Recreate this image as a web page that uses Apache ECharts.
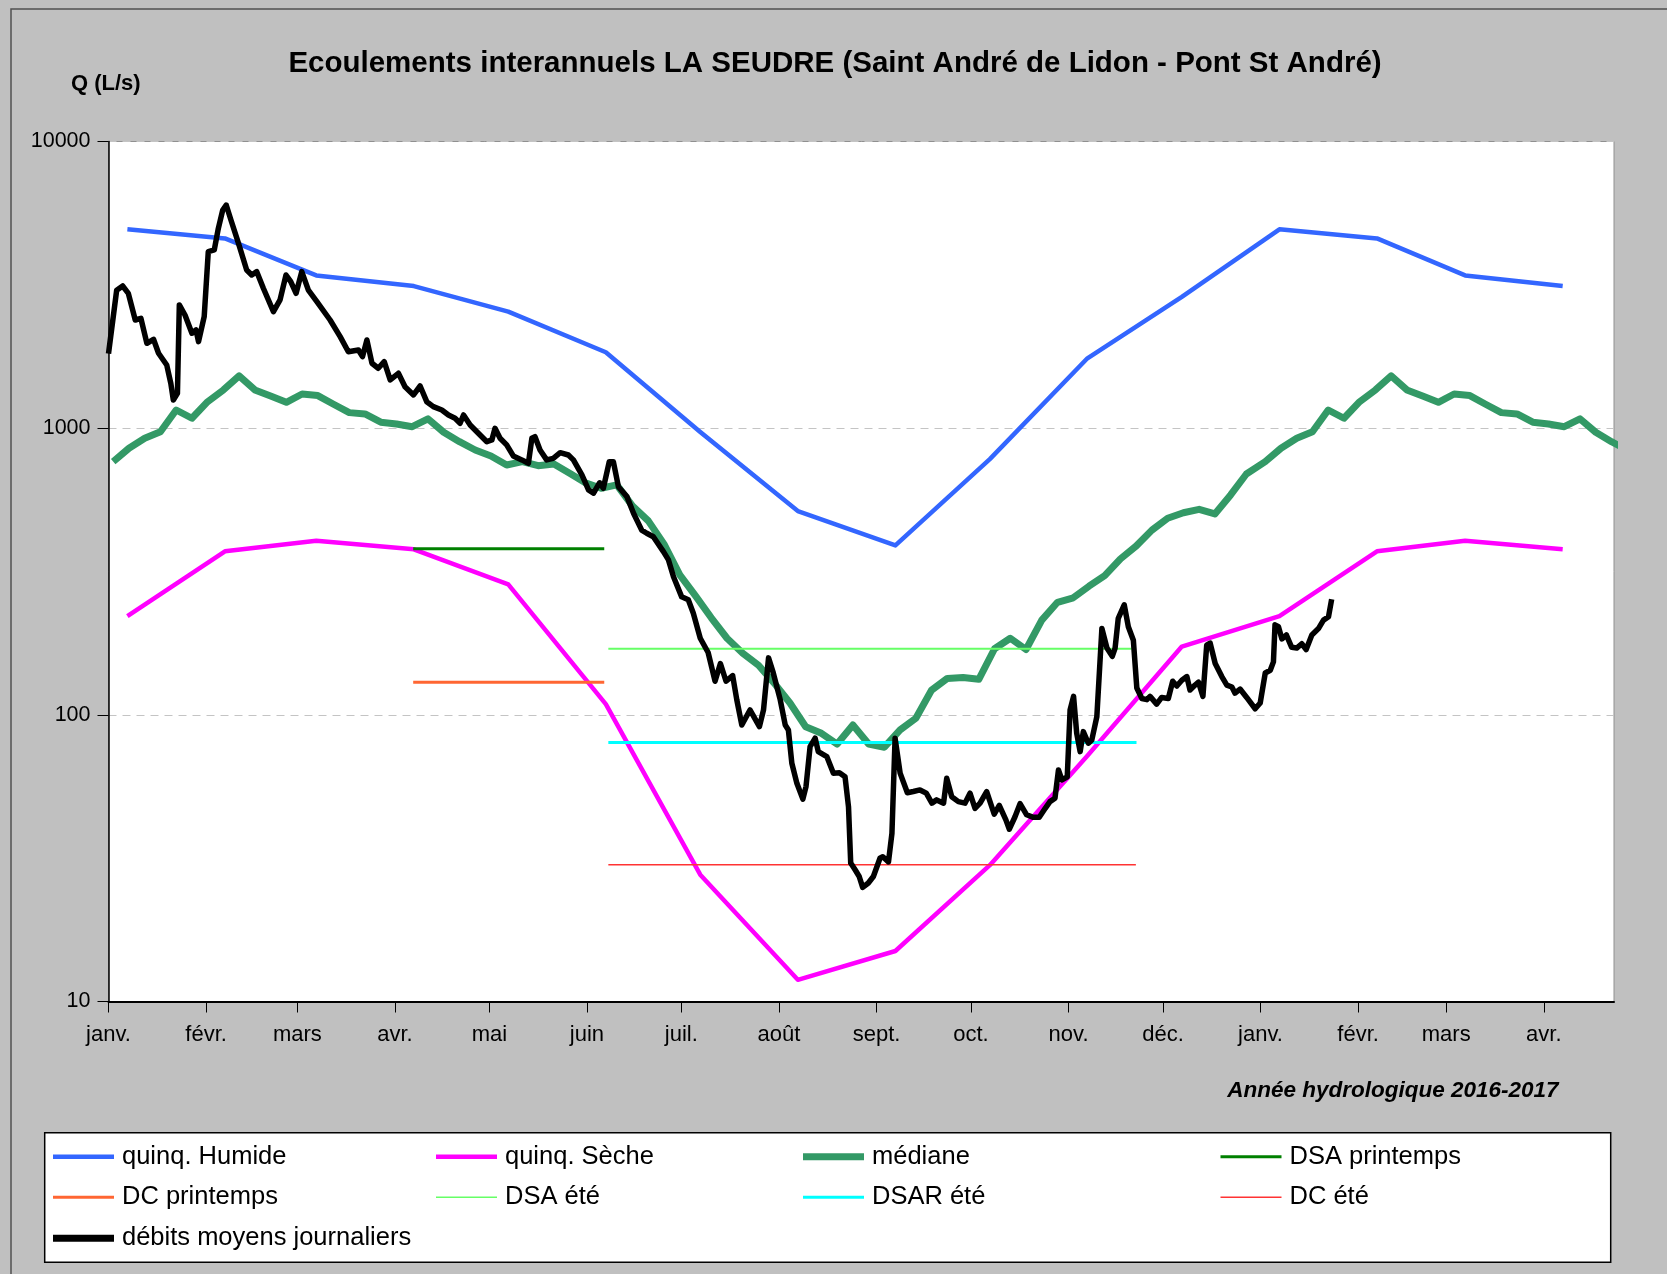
<!DOCTYPE html>
<html><head><meta charset="utf-8">
<script src="https://cdn.jsdelivr.net/npm/echarts@6/dist/echarts.min.js"></script>
<style>html,body{margin:0;padding:0;background:#c0c0c0}#c{width:1667px;height:1274px}</style>
</head><body><div id="c"></div>
<script>
// ---------- DATA ----------
const monthLabels = ['janv.','févr.','mars','avr.','mai','juin','juil.','août','sept.','oct.','nov.','déc.','janv.','févr.','mars','avr.'];
const axisMonths = [[2016,0],[2016,1],[2016,2],[2016,3],[2016,4],[2016,5],[2016,6],[2016,7],[2016,8],[2016,9],[2016,10],[2016,11],[2017,0],[2017,1],[2017,2],[2017,3]];
const axisEndDay = 478.3; // days after 2016-01-01

// monthly quintile values (Jan..Dec), plotted on the 7th of each month
const quinqHumide = [4940, 4590, 3410, 3130, 2550, 1840, 970, 514, 390, 780, 1753, 2870];
const quinqSeche  = [221, 372, 405, 378, 285, 109, 27.7, 11.9, 15.0, 29.9, 72, 173];
const monthlyPlotDay = 7;

// median, 5-day steps (73 values over the year)
const medianStartDay = 1.5, medianStep = 5;
const medianValues = [764, 851, 922, 972, 1157, 1083, 1237, 1359, 1521, 1359, 1295, 1231, 1316, 1299, 1212,
  1133, 1121, 1049, 1034, 1012, 1078, 968, 897, 839, 800, 744, 764, 740, 750, 696, 645, 617, 634, 535, 475,
  394, 308, 260, 218, 185, 164, 149, 129, 110, 90.9, 86.2, 79.1, 92.2, 79.1, 77.1, 88.6, 97.3, 122, 134, 135,
  133, 170, 185, 169, 214, 247, 256, 281, 306, 350, 388, 441, 485, 507, 521, 502, 585, 692];

// thresholds
const thresholdNames  = ['DSA printemps', 'DC printemps', 'DSA été', 'DSAR été', 'DC été'];
const thresholdValues = [380, 130, 170, 80, 30];
const thresholdStart  = [96.8, 96.8, 158.8, 158.8, 158.8];
const thresholdEnd    = [157.5, 157.5, 325.0, 326.6, 326.4];

// daily mean flows (days after 2016-01-01, L/s)
const flowDays = [0, 2.6, 4.5, 6.3, 8.5, 10.3, 12.2, 14.3, 15.9, 18.5,
  19.8, 20.6, 21.9, 22.5, 24.3, 26.5, 27.8, 28.6, 30.4, 31.7,
  33.6, 34.9, 36.3, 37.4, 38.9, 41.3, 43.9, 45.5, 47.1, 49.2,
  52.4, 54.5, 56.4, 57.9, 59.6, 61.4, 63.5, 66.2, 70.4, 73.6,
  76.2, 79.4, 80.7, 82.1, 83.7, 85.7, 87.6, 89.5, 92.1, 94.2,
  96.9, 99.0, 101.1, 103.2, 105.9, 108.0, 110.1, 111.7, 112.8, 114.9,
  117.5, 120.2, 121.8, 122.8, 124.4, 126.5, 128.6, 131.3, 133.4, 134.5,
  135.5, 137.1, 139.2, 141.3, 143.5, 146.1, 147.7, 150.4, 152.5, 154.1,
  156.0, 157.2, 159.1, 160.4, 162.0, 164.7, 166.8, 169.4, 171.0, 173.1,
  176.3, 177.9, 179.5, 182.1, 184.2, 185.8, 188.0, 190.5, 192.7, 194.4,
  196.2, 198.3, 199.6, 201.2, 203.8, 206.8, 208.1, 209.7, 211.2, 213.4,
  215.0, 216.0, 217.1, 218.7, 220.6, 221.6, 222.9, 224.5, 225.5, 228.2,
  230.3, 232.2, 234.0, 235.1, 235.8, 237.2, 238.5, 239.6, 241.4, 243.0,
  245.1, 246.0, 247.8, 248.9, 249.9, 251.5, 253.8, 255.7, 257.8, 259.8,
  261.6, 263.1, 265.3, 266.3, 267.9, 270.0, 272.1, 273.7, 275.3, 276.9,
  279.0, 281.4, 283.0, 285.1, 286.2, 288.0, 289.6, 291.7, 293.8, 295.7,
  297.6, 299.1, 300.7, 301.8, 302.9, 304.6, 305.5, 306.6, 307.6, 308.7,
  309.7, 311.3, 312.4, 314.0, 315.6, 317.2, 318.9, 319.8, 320.8, 322.7,
  324.0, 325.6, 326.7, 328.3, 329.9, 330.9, 333.0, 334.6, 336.7, 338.1,
  339.4, 341.0, 342.6, 343.6, 345.2, 346.3, 347.7, 348.9, 350.0, 351.6,
  353.7, 355.3, 356.9, 357.9, 359.5, 361.6, 364.3, 365.9, 367.5, 369.1,
  370.1, 370.6, 371.7, 372.8, 374.2, 375.9, 377.5, 379.1, 380.5, 382.3,
  384.4, 386.0, 387.6, 388.6];
const flowValues = [1820, 3030, 3133, 2954, 2384, 2417, 1977, 2042, 1825, 1661,
  1434, 1254, 1323, 2690, 2482, 2143, 2200, 2003, 2448, 4127,
  4184, 4980, 5770, 6003, 5323, 4415, 3563, 3423, 3515, 3076,
  2550, 2800, 3423, 3243, 2954, 3515, 3030, 2762, 2384, 2085,
  1848, 1874, 1776, 2030, 1684, 1618, 1706, 1473, 1554, 1395,
  1306, 1403, 1237, 1189, 1157, 1112, 1083, 1040, 1112, 1026,
  960, 897, 910, 999, 922, 874, 800, 775, 754, 922,
  934, 839, 775, 785, 821, 806, 775, 687, 609, 593,
  645, 617, 764, 764, 625, 577, 505, 441, 430, 418,
  371, 347, 303, 258, 252, 226, 185, 165, 131, 151,
  131, 137, 113, 92.2, 104, 90.9, 104, 158, 140, 113,
  92.2, 88.6, 67.8, 57.7, 50.8, 56.2, 77.5, 82.9, 74.4, 71.5,
  62.6, 62.8, 60.8, 47.8, 30.4, 28.8, 27.3, 25.0, 25.9, 27.3,
  31.6, 32.0, 30.7, 38.6, 82.9, 62.6, 53.5, 54.0, 54.7, 53.3,
  49.2, 50.5, 49.2, 60.1, 51.8, 49.8, 49.2, 53.3, 47.2, 49.2,
  54.0, 45.0, 48.3, 43.0, 39.9, 44.1, 49.0, 44.8, 43.9, 43.9,
  47.2, 49.8, 51.2, 64.2, 59.3, 60.8, 104, 116, 86.2, 74.4,
  87.4, 79.6, 81.7, 98.6, 200, 171, 160, 171, 217, 242,
  203, 182, 124, 114, 113, 116, 109, 115, 114, 131,
  126, 132, 136, 122, 127, 130, 116, 175, 178, 151,
  136, 127, 125, 119, 123, 115, 105, 110, 140, 143,
  153, 206, 203, 184, 190, 172, 171, 177, 169, 190,
  200, 214, 220, 253];

// ---------- BUILD ----------
const DAY0 = Date.UTC(2016, 0, 1);
const dayOf = (y, m, d) => (Date.UTC(y, m, d) - DAY0) / 86400000;
const monthStartDays = axisMonths.map(([y, m]) => dayOf(y, m, 1));

function monthlySeries(vals) {
  return axisMonths.map(([y, m]) => [dayOf(y, m, monthlyPlotDay), vals[m]]);
}
function medianSeries() {
  const out = [];
  const yearLen = dayOf(2017, 0, 1);
  for (let rep = 0; rep < 2; rep++) {
    for (let k = 0; k < medianValues.length; k++) {
      const d = rep * yearLen + medianStartDay + k * medianStep;
      out.push([d, medianValues[k]]);
      if (d > axisEndDay) return out;
    }
  }
  return out;
}
const flowData = flowDays.map((d, i) => [d, flowValues[i]]);

const FONT = "'Liberation Sans', Arial, sans-serif";
const thrColors = ['#008000', '#FF6633', '#66FF66', '#00FFFF', '#FF3333'];
const thrWidths = [3, 3, 2, 3, 1.5];

const series = [
  { name: 'quinq. Humide', data: monthlySeries(quinqHumide), color: '#3366FF', width: 4.5 },
  { name: 'quinq. Sèche', data: monthlySeries(quinqSeche), color: '#FF00FF', width: 4.5 },
  { name: 'médiane', data: medianSeries(), color: '#339966', width: 7 }
];
thresholdNames.forEach((n, i) => series.push({
  name: n, data: [[thresholdStart[i], thresholdValues[i]], [thresholdEnd[i], thresholdValues[i]]],
  color: thrColors[i], width: thrWidths[i]
}));
series.push({ name: 'débits moyens journaliers', data: flowData, color: '#000000', width: 5.5 });

const legendIconH = [4.5, 4.5, 7, 3, 3, 1.5, 3, 1.5, 7];
const legendOrder = ['quinq. Humide', 'quinq. Sèche', 'médiane', 'DSA printemps', 'DC printemps', 'DSA été', 'DSAR été', 'DC été', 'débits moyens journaliers'];
const legendCols = [53, 436, 803, 1220.5];
const legendRows = [1156.7, 1197.3, 1238.3];
const legends = legendOrder.map((n, i) => ({
  data: [n], left: legendCols[i % 4], top: legendRows[Math.floor(i / 4)] - 15,
  icon: 'rect', itemWidth: 61, itemHeight: legendIconH[i], padding: 0, selectedMode: false,
  textStyle: { fontSize: 25.5, fontFamily: FONT, color: '#000', lineHeight: 30, padding: [0, 0, 0, 3] }
}));

const chart = echarts.init(document.getElementById('c'), null, { renderer: 'canvas' });
chart.setOption({
  animation: false,
  backgroundColor: '#c0c0c0',
  grid: { left: 108.5, top: 141.5, right: 53, bottom: 272.5, show: true, backgroundColor: '#ffffff', borderColor: '#909090', borderWidth: 1 },
  xAxis: {
    type: 'value', min: 0, max: axisEndDay,
    axisLine: { show: true, onZero: false, lineStyle: { color: '#000', width: 2 } },
    axisTick: { show: true, length: 11, customValues: monthStartDays, lineStyle: { color: '#000', width: 1 } },
    axisLabel: { customValues: monthStartDays, margin: 22, fontSize: 22, fontFamily: FONT, color: '#000',
      formatter: v => { const i = monthStartDays.indexOf(v); return i >= 0 ? monthLabels[i] : ''; } },
    splitLine: { show: false }
  },
  yAxis: {
    type: 'log', logBase: 10, min: 10, max: 10000,
    axisLine: { show: true, lineStyle: { color: '#000', width: 1.5 } },
    axisTick: { show: true, length: 11, lineStyle: { color: '#000' } },
    minorTick: { show: false },
    axisLabel: { margin: 18, fontSize: 21.5, fontFamily: FONT, color: '#000', formatter: v => String(Math.round(v)) },
    splitLine: { show: true, lineStyle: { color: '#c4c4c4', type: [8, 6], width: 1 } }
  },
  legend: legends,
  series: series.map(s => ({
    name: s.name, type: 'line', data: s.data, symbol: 'none', showSymbol: false, silent: true,
    color: s.color, clip: true,
    lineStyle: { color: s.color, width: s.width, join: 'round', cap: 'butt' }
  })),
  graphic: [
    { type: 'rect', z: -10, shape: { x: 11, y: 9, width: 1700, height: 1300 }, style: { fill: 'none', stroke: '#505050', lineWidth: 1.5 } },
    { type: 'rect', z: -10, shape: { x: 44.7, y: 1132.7, width: 1566, height: 129.6 }, style: { fill: '#ffffff', stroke: '#000000', lineWidth: 1.5 } },
    { type: 'text', x: 835, y: 63.8, style: { text: 'Ecoulements interannuels LA SEUDRE (Saint André de Lidon - Pont St André)', fontSize: 29.5, fontWeight: 'bold', fontFamily: FONT, fill: '#000', align: 'center', verticalAlign: 'middle' } },
    { type: 'text', x: 71, y: 84, style: { text: 'Q (L/s)', fontSize: 22, fontWeight: 'bold', fontFamily: FONT, fill: '#000', align: 'left', verticalAlign: 'middle' } },
    { type: 'text', x: 1558.6, y: 1091, style: { text: 'Année hydrologique 2016-2017', fontSize: 22.5, fontWeight: 'bold', fontStyle: 'italic', fontFamily: FONT, fill: '#000', align: 'right', verticalAlign: 'middle' } }
  ]
});
</script></body></html>
